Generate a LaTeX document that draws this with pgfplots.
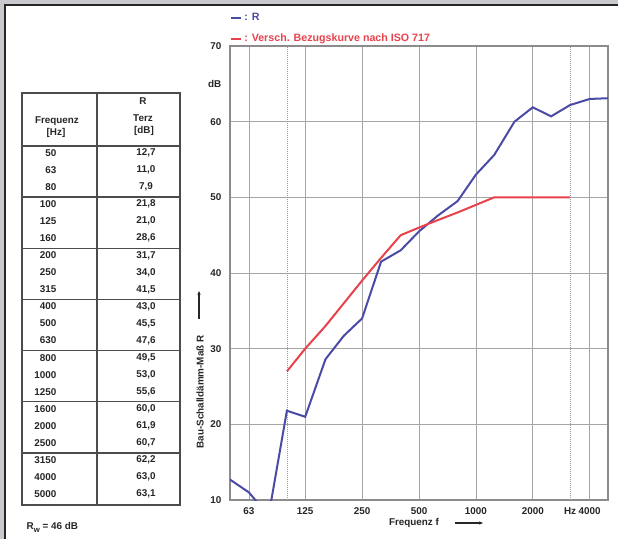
\documentclass[border=0pt]{standalone}
\usepackage{pgfplots}
\pgfplotsset{compat=1.18}
\usepackage{fontspec}
\setmainfont{Liberation Sans}
\usetikzlibrary{arrows.meta}
\definecolor{rblue}{HTML}{4B4BA6}
\definecolor{rred}{HTML}{E8424C}
\definecolor{bggray}{HTML}{C9C9CE}
\newcommand\lbl{\fontsize{7.4}{8.5}\selectfont\bfseries}
\begin{document}
\begin{tikzpicture}
\begin{scope}[x=0.75pt,y=-0.75pt]
\useasboundingbox (0,0) rectangle (618,539);
\fill[bggray] (0,0) rectangle (618,539);
\fill[white] (5,5) rectangle (618,539);
\draw[line width=1.2pt, black!85] (5,539) -- (5,5) -- (618,5);
% table
\draw[line width=1pt, black!70] (22,93) rectangle (180,505);
\draw[line width=1pt, black!70] (97,93) -- (97,505);
\draw[line width=1pt, black!70] (22,146) -- (180,146);
\foreach \k in {0,...,5} \draw[line width=1pt, black!70] (22,{197+\k*51.2}) -- (180,{197+\k*51.2});
\node[font=\lbl, text=black!85] at (57,121) {Frequenz};
\node[font=\lbl, text=black!85] at (56,133) {[Hz]};
\node[font=\lbl, text=black!85] at (143,101) {R};
\node[font=\lbl, text=black!85] at (143,118) {Terz};
\node[font=\lbl, text=black!85] at (144,131) {[dB]};
\foreach \f/\v [count=\i from 0] in {50/{12,7},63/{11,0},80/{7,9},100/{21,8},125/{21,0},160/{28,6},200/{31,7},250/{34,0},315/{41,5},400/{43,0},500/{45,5},630/{47,6},800/{49,5},1000/{53,0},1250/{55,6},1600/{60,0},2000/{61,9},2500/{60,7},3150/{62,2},4000/{63,0},5000/{63,1}}{
  \pgfmathsetmacro\yy{153+int(\i/3)*51.2+mod(\i,3)*17}
  \node[anchor=east, font=\lbl, text=black!85] at (61,\yy) {\f};
  \node[font=\lbl, text=black!85] at (146,\yy) {\v};
}
\node[anchor=west, font=\lbl, text=black!85] at (22,527) {R\raisebox{-0.6ex}{\fontsize{5.8}{6}\selectfont w} = 46 dB};
% axis labels
\node[rotate=90, font=\lbl, text=black!85] at (200,392) {Bau-Schalldämm-Maß R};
\draw[-{Stealth[length=3pt,width=2.5pt]}, line width=0.8pt, black!85] (199,319) -- (199,291);
\node[font=\lbl, text=black!85] at (414,523) {Frequenz f};
\draw[-{Stealth[length=3pt,width=2.5pt]}, line width=0.8pt, black!85] (455,523) -- (483,523);
\end{scope}
\begin{axis}[
  at={(172.5pt,-375pt)}, anchor=south west,
  scale only axis, width=283.5pt, height=340.5pt,
  xmode=log, xmin=50, xmax=5000, ymin=10, ymax=70,
  axis line style={line width=1.1pt, draw=black!45},
  xmajorgrids, ymajorgrids,
  major grid style={line width=0.5pt, draw=black!35},
  major tick length=0pt,
  /pgf/number format/assume math mode=true,
  xtick={63,125,250,500,1000,2000,4000},
  xticklabels={63,125,250,500,1000,2000,4000},
  extra x ticks={100,3150}, extra x tick labels={,Hz},
  extra x tick style={major grid style={densely dotted, line width=0.5pt, draw=black!40}},
  ytick={10,20,30,40,50,60,70},
  yticklabels={10,20,30,40,50,60,70},
  extra y ticks={65}, extra y tick labels={dB},
  extra y tick style={grid=none},
  tick label style={font=\lbl, text=black!85},
  xticklabel style={yshift=-2pt},
  yticklabel style={xshift=-3pt},
  legend style={at={(0,1)}, anchor=south west, draw=none, fill=none,
    font=\fontsize{8}{9}\selectfont\bfseries, inner sep=0pt, row sep=4.3pt,
    yshift=-0.5pt, xshift=0pt},
  legend cell align=left,
  legend image code/.code={\draw[#1, line width=1.5pt] (0pt,0pt) -- (7pt,0pt);},
]
\addplot[rblue, line width=1.5pt] table {
f R
50 12.7
63 11.0
80 7.9
100 21.8
125 21.0
160 28.6
200 31.7
250 34.0
315 41.5
400 43.0
500 45.5
630 47.6
800 49.5
1000 53.0
1250 55.6
1600 60.0
2000 61.9
2500 60.7
3150 62.2
4000 63.0
5000 63.1
};
\addlegendentry{\textcolor{rblue}{: R}}
\addplot[rred, line width=1.5pt] table {
f R
100 27
125 30
160 33
200 36
250 39
315 42
400 45
500 46
630 47
800 48
1000 49
1250 50
1600 50
2000 50
2500 50
3150 50
};
\addlegendentry{\textcolor{rred}{: Versch. Bezugskurve nach ISO 717}}
\end{axis}
\end{tikzpicture}
\end{document}
